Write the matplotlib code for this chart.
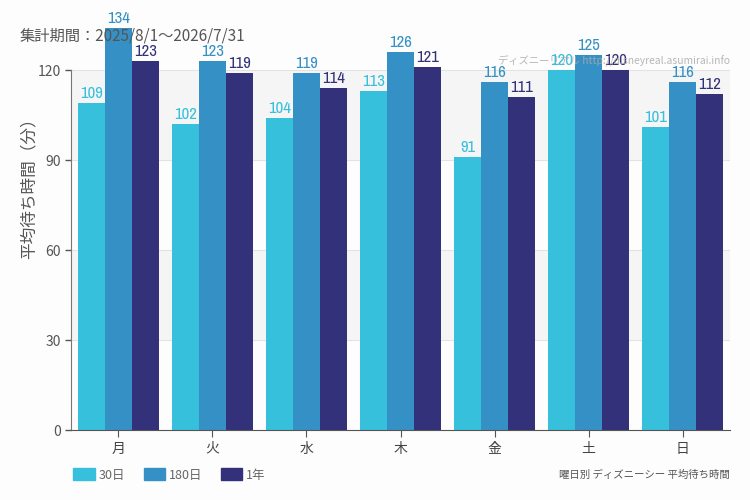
import matplotlib
matplotlib.use('Agg')
import matplotlib.pyplot as plt
import matplotlib.font_manager as fm
import numpy as np
from matplotlib.patches import Patch

plt.rcParams['font.family'] = ['Noto Sans CJK JP', 'DejaVu Sans']

days = ['月', '火', '水', '木', '金', '土', '日']
series_names = ['30日', '180日', '1年']
wait_30 = [109, 102, 104, 113, 91, 120, 101]
wait_180 = [134, 123, 119, 126, 116, 125, 116]
wait_1y = [123, 119, 114, 121, 111, 120, 112]
colors = ['#36c0dc', '#3591c5', '#33317a']

# pick a condensed face for the bar labels if one is installed
names = sorted({f.name for f in fm.fontManager.ttflist})
narrow = [n for n in names if 'Narrow' in n or 'Condensed' in n]

fig = plt.figure(figsize=(7.5, 5), dpi=100, facecolor='#fcfdfc')
ax = fig.add_axes([0.095, 0.14, 0.878, 0.82])
ax.set_facecolor('#fcfdfc')

# banded background
for lo, hi in [(30, 60), (90, 120)]:
    ax.axhspan(lo, hi, color='#f4f5f4', zorder=0, lw=0)
for y in [30, 60, 90, 120]:
    ax.axhline(y, color='#e2e3e2', lw=0.8, zorder=0.5)

x = np.arange(len(days))
w = 0.287
label_font = narrow[:1] + ['DejaVu Sans']
for i, (vals, c) in enumerate(zip([wait_30, wait_180, wait_1y], colors)):
    pos = x + (i - 1) * w
    ax.bar(pos, vals, width=w, color=c, zorder=2, clip_on=False)
    for px, v in zip(pos, vals):
        ax.text(px, v + 0.6, str(v), ha='center', va='bottom', color=c,
                fontsize=12, family=label_font, stretch='condensed',
                weight='bold', zorder=3)

ax.set_xlim(-0.5, 6.5)
ax.set_ylim(0, 136.7)
ax.set_yticks([0, 30, 60, 90, 120])
ax.set_xticks(x)
ax.set_xticklabels(days, fontsize=10, color='#444444')
ax.tick_params(axis='y', labelsize=10, colors='#555555', length=4, width=1)
ax.tick_params(axis='x', length=5, color='#555555')
for s in ['top', 'right']:
    ax.spines[s].set_visible(False)
ax.spines['left'].set_color('#777777')
ax.spines['bottom'].set_color('#555555')
ax.spines['left'].set_bounds(0, 120)
ax.set_ylabel('平均待ち時間（分）', fontsize=12, color='#555555')
ax.yaxis.set_label_coords(-34 / 659, 0.6)

fig.text(20 / 750, 1 - 36 / 500, '集計期間：2025/8/1～2026/7/31',
         fontsize=11, color='#555555', va='center')
fig.text(730 / 750, 1 - 60 / 500, 'ディズニーリアル http://disneyreal.asumirai.info',
         fontsize=7.4, color='#aaaaaa', alpha=0.85, ha='right', va='center', zorder=10)
fig.text(730 / 750, 1 - 475 / 500, '曜日別 ディズニーシー 平均待ち時間',
         fontsize=7.5, color='#555555', ha='right', va='center')

handles = [Patch(color=c) for c in colors]
fig.legend(handles, series_names, loc='center left', bbox_to_anchor=(62 / 750, 1 - 475 / 500),
           ncol=3, frameon=False, fontsize=9, handlelength=1.7, handleheight=1.1,
           columnspacing=1.5, handletextpad=0.3, labelcolor='#666666')

fig.savefig('out.png', dpi=100, facecolor=fig.get_facecolor())
